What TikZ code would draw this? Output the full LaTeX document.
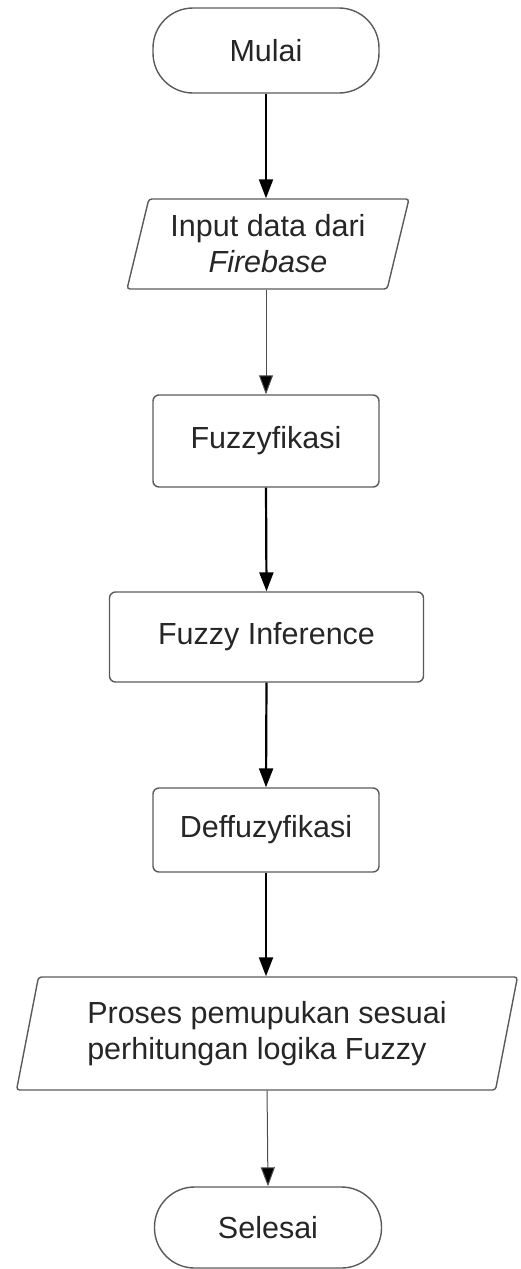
\documentclass[tikz,border=0pt]{standalone}
\usepackage{fontspec}
\setmainfont{Liberation Sans}
\usetikzlibrary{arrows.meta,shapes.geometric}
\definecolor{txt}{HTML}{262626}
\definecolor{edge}{HTML}{5A5A5A}
\begin{document}
\begin{tikzpicture}[x=1pt,y=-1pt,
  base/.style={draw=edge,line width=1.4pt,text=txt,align=center,inner sep=0pt,
    font=\fontsize{30.5}{36}\selectfont},
  term/.style={base,rectangle,rounded corners=40pt},
  proc/.style={base,rectangle,rounded corners=6pt},
  io/.style={base,trapezium,trapezium left angle=73,trapezium right angle=107,
    trapezium stretches=true,rounded corners=3pt},
  thick arrow/.style={draw=black,line width=2.2pt,-{Triangle[length=19pt,width=14pt]}},
  thin arrow/.style={draw=black!70,line width=1pt,-{Triangle[length=19pt,width=14pt,fill=black]}}
]
\useasboundingbox (0,0) rectangle (520,1269);
\node[term,minimum width=226pt,minimum height=85pt] (start) at (266,50.5) {Mulai};
\node[io,minimum width=282pt,minimum height=90pt] (input) at (268,244) {Input data dari\\\textit{Firebase}};
\node[proc,minimum width=226pt,minimum height=92pt] (fuzz) at (266,441) {Fuzzyfikasi};
\node[proc,minimum width=314pt,minimum height=90pt] (inf) at (266.5,637) {Fuzzy Inference};
\node[proc,minimum width=226pt,minimum height=84pt] (deff) at (266,830) {Deffuzyfikasi};
\node[io,align=left,trapezium left angle=75,trapezium right angle=105,minimum width=502pt,minimum height=113pt] (proses) at (267,1033.5) {Proses pemupukan sesuai\\perhitungan logika Fuzzy};
\node[term,minimum width=227pt,minimum height=81pt] (end) at (268,1227.5) {Selesai};
\draw[thick arrow] (start.south) -- (start.south |- input.north);
\draw[thin arrow] (input.south -| fuzz.north) -- (fuzz.north);
\draw[thick arrow] (fuzz.south) -- (inf.north);
\draw[thick arrow] (inf.south) -- (deff.north);
\draw[thick arrow] (deff.south) -- (deff.south |- proses.north);
\draw[thin arrow] (proses.south) -- (end.north);
\end{tikzpicture}
\end{document}
